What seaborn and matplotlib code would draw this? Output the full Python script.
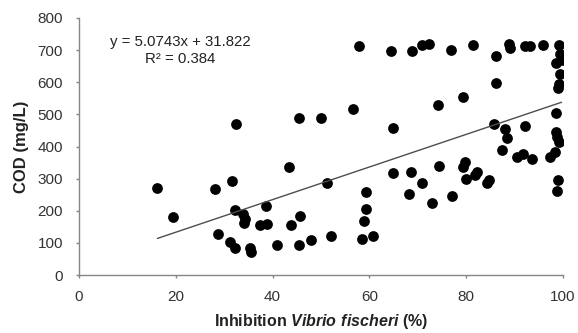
import numpy as np
import matplotlib
matplotlib.use("Agg")
import matplotlib.pyplot as plt
import seaborn as sns

# Inhibition of Vibrio fischeri (%) vs COD (mg/L)
inhibition = [16.2, 19.5, 28.2, 28.7, 31.1, 31.6, 32.2, 32.2, 32.4, 33.8,
              34.2, 34.0, 35.4, 35.6, 37.4, 38.9, 38.6, 41.0, 43.4, 43.7,
              45.5, 45.7, 45.5, 48.0, 50.0, 51.3, 52.1, 56.7, 57.8, 58.5,
              58.9, 59.4, 59.4, 60.7, 64.5, 64.8, 64.9, 68.2, 68.7, 68.9,
              70.8, 70.8, 72.4, 73.0, 74.2, 74.4, 76.8, 77.0, 79.4, 79.4,
              79.8, 79.9, 81.4, 81.8, 82.3, 84.4, 84.7, 85.7, 86.2, 86.2,
              87.3, 88.0, 88.5, 88.8, 89.0, 90.6, 91.8, 92.1, 92.1, 93.2,
              93.7, 95.9, 97.3, 98.3, 98.5, 98.7, 99.2, 98.5, 98.7, 99.0,
              98.9, 99.2, 99.4, 98.5, 99.7, 99.4, 99.2]
cod = [272, 182, 267, 128, 104, 293, 203, 85, 470, 190,
       176, 163, 85, 72, 155, 158, 215, 95, 337, 156,
       95, 183, 488, 110, 488, 288, 120, 518, 712, 113,
       167, 205, 259, 123, 698, 319, 458, 252, 321, 698,
       287, 715, 718, 224, 528, 339, 699, 246, 554, 335,
       352, 298, 715, 311, 321, 288, 295, 471, 682, 599,
       390, 453, 425, 718, 708, 366, 376, 463, 712, 712,
       360, 715, 366, 383, 446, 430, 414, 503, 262, 295,
       582, 596, 627, 660, 668, 689, 715]

slope = 5.0743
intercept = 31.822
r2 = 0.384

sns.set_style("white")
plt.rcParams['font.family'] = ['Liberation Sans', 'DejaVu Sans']
plt.rcParams['mathtext.fontset'] = 'custom'
plt.rcParams['mathtext.bfit'] = 'Liberation Sans:bold:italic'
plt.rcParams['mathtext.rm'] = 'Liberation Sans'

fig = plt.figure(figsize=(5.78, 3.33), dpi=100)
ax = fig.add_axes([0.1367, 0.174, 0.8373, 0.772])

sns.scatterplot(x=inhibition, y=cod, ax=ax, color="black", s=60,
                edgecolor="black", linewidth=0)

# trend line
xl = np.array([min(inhibition), max(inhibition)])
ax.plot(xl, slope * xl + intercept, color="#4d4d4d", lw=1.0)

ax.text(0.21, 0.905, f"y = {slope}x + {intercept}", transform=ax.transAxes,
        ha="center", va="center", fontsize=10.8, color="#222222")
ax.text(0.21, 0.84, f"R² = {r2}", transform=ax.transAxes,
        ha="center", va="center", fontsize=10.8, color="#222222")

ax.set_xlim(0, 100)
ax.set_ylim(0, 800)
ax.set_xticks(range(0, 101, 20))
ax.set_yticks(range(0, 801, 100))
ax.tick_params(axis="both", labelsize=11, colors="#868686", labelcolor="#333333",
               length=2.5, width=1, direction="out", bottom=True, left=True)
ax.tick_params(axis="y", pad=9)
ax.tick_params(axis="x", pad=8)

sns.despine(ax=ax)
for sp in ["left", "bottom"]:
    ax.spines[sp].set_color("#868686")
    ax.spines[sp].set_linewidth(1)

ax.set_xlabel(r"Inhibition $\mathbfit{Vibrio\ fischeri}$ (%)", fontsize=11.5,
              fontweight="bold", color="#222222", labelpad=6)
ax.set_ylabel("COD (mg/L)", fontsize=12, fontweight="bold", color="#222222",
              labelpad=6)

fig.savefig("out.png", dpi=100)
